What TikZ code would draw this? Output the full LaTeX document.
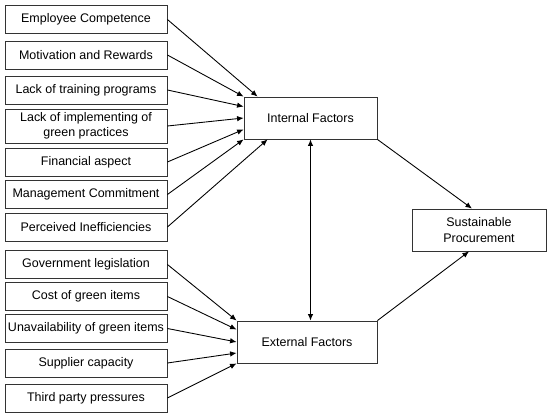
\documentclass[tikz,border=0pt]{standalone}
\usepackage{fontspec}
\setmainfont{Liberation Sans}
\usetikzlibrary{arrows.meta}

\begin{document}
\begin{tikzpicture}[x=0.02cm,y=-0.02cm,line width=0.5pt,>={Latex[length=1.3mm,width=1.1mm]},
  factor/.style={draw=black!80,minimum width=3.24cm,minimum height=0.56cm,inner sep=1pt,align=center,font=\fontsize{7.1}{8.6}\selectfont},
  group/.style={draw=black!80,minimum width=2.68cm,minimum height=0.84cm,align=center,font=\fontsize{7.1}{8.6}\selectfont}]
  \useasboundingbox (0,0) rectangle (550,418);
  % factores
  \foreach \n/\y/\t in {1/19.5/{Employee Competence},2/55/{Motivation and Rewards},3/90/{Lack of training programs},
    5/162/{Financial aspect},6/194.5/{Management Commitment},7/227/{Perceived Inefficiencies},
    8/264.5/{Government legislation},9/296.5/{Cost of green items},10/328.5/{Unavailability of green items},
    11/363/{Supplier capacity},12/398/{Third party pressures}}
    \node[factor] (f\n) at (86,\y) {\t};
  \node[factor,minimum height=0.68cm] (f4) at (86,126) {Lack of implementing of\\green practices};
  % grupos
  \node[group,minimum width=2.66cm] (int) at (310.5,118) {Internal Factors};
  \node[group,minimum width=2.8cm] (ext) at (307,342) {External Factors};
  \node[group] (sus) at (479,230) {Sustainable\\Procurement};
  % flechas internas
  \draw[->] (f1.east) -- ([xshift=0.28cm]int.north west);
  \draw[->] (f2.east) -- (int.north west);
  \draw[->] (f3.east) -- ([yshift=-0.2cm]int.north west);
  \draw[->] (f4.east) -- (int.west);
  \draw[->] (f5.east) -- ([yshift=0.2cm]int.south west);
  \draw[->] (f6.east) -- (int.south west);
  \draw[->] (f7.east) -- ([xshift=0.48cm]int.south west);
  % flechas externas
  \draw[->] (f8.east) -- (ext.north west);
  \draw[->] (f9.east) -- ([yshift=-0.18cm]ext.north west);
  \draw[->] (f10.east) -- (ext.west);
  \draw[->] (f11.east) -- ([yshift=-0.22cm]ext.west);
  \draw[->] (f12.east) -- (ext.south west);
  % relaciones
  \draw[<->] (int.south) -- (int.south |- ext.north);
  \draw[->] (int.south east) -- ([xshift=-0.14cm]sus.north);
  \draw[->] (ext.north east) -- ([xshift=-0.2cm]sus.south);
\end{tikzpicture}
\end{document}
